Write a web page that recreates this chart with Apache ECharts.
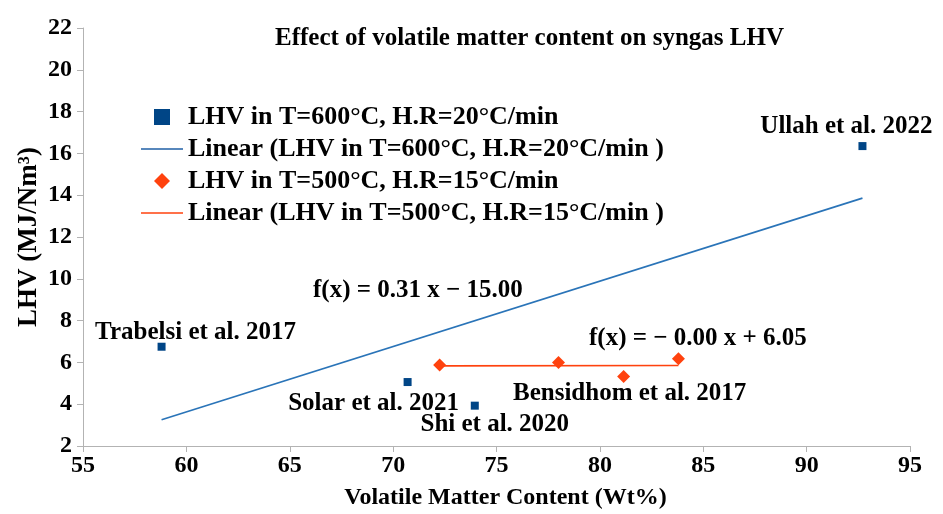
<!DOCTYPE html>
<html>
<head>
<meta charset="utf-8">
<script src="https://cdn.jsdelivr.net/npm/echarts@6/dist/echarts.min.js"></script>
<style>
html,body{margin:0;padding:0;background:#fff;}
#c{width:943px;height:514px;}
</style>
</head>
<body>
<div id="c"></div>
<script>
// ---- data ----
var seriesNames = [
  'LHV in T=600°C, H.R=20°C/min',
  'Linear (LHV in T=600°C, H.R=20°C/min )',
  'LHV in T=500°C, H.R=15°C/min',
  'Linear (LHV in T=500°C, H.R=15°C/min )'
];
var vm600 = [58.8, 70.7, 73.95, 92.7];
var lhv600 = [6.75, 5.06, 3.93, 16.35];
var refs600 = ['Trabelsi et al. 2017', 'Solar et al. 2021', 'Shi et al. 2020', 'Ullah et al. 2022'];
var vm500 = [72.25, 78.0, 81.15, 83.8];
var lhv500 = [5.88, 5.99, 5.32, 6.18];
var refs500 = ['', '', 'Bensidhom et al. 2017', ''];
var eqText600 = 'f(x) = 0.31 x − 15.00';
var eqText500 = 'f(x) = − 0.00 x + 6.05';
var xTicks = [55, 60, 65, 70, 75, 80, 85, 90, 95];
var yTicks = [2, 4, 6, 8, 10, 12, 14, 16, 18, 20, 22];

// ---- helpers ----
function fit(xs, ys) {
  var n = xs.length, mx = 0, my = 0, sxy = 0, sxx = 0;
  for (var i = 0; i < n; i++) { mx += xs[i]; my += ys[i]; }
  mx /= n; my /= n;
  for (i = 0; i < n; i++) { sxy += (xs[i]-mx)*(ys[i]-my); sxx += (xs[i]-mx)*(xs[i]-mx); }
  var b = sxy / sxx, a = my - b*mx;
  var x0 = Math.min.apply(null, xs), x1 = Math.max.apply(null, xs);
  return [[x0, a + b*x0], [x1, a + b*x1]];
}
var FONT = 'Liberation Serif';
var FS = 25;
var labelPos600 = [
  {position: 'top', offset: [34, 7]},
  {position: 'bottom', offset: [-34, 0]},
  {position: 'bottom', offset: [20, -3]},
  {position: 'top', offset: [-16, 2]}
];
var txt = {color: '#000', fontFamily: FONT, fontWeight: 'bold', fontSize: FS};
var LINE_ICON = 'path://M0,0L42,0L42,1.6L0,1.6Z';
var SQUARE_ICON = 'path://M0,0L1,0L1,1L0,1Z';
var DIAMOND_ICON = 'path://M1,0L2,1L1,2L0,1Z';

var chart = echarts.init(document.getElementById('c'), null, {renderer: 'canvas'});
var option = {
  backgroundColor: '#fff',
  animation: false,
  title: {
    text: 'Effect of volatile matter content on syngas LHV',
    left: 270, top: 21,
    textStyle: {color: '#000', fontFamily: FONT, fontWeight: 'bold', fontSize: 25}
  },
  grid: {left: 83, right: 33, top: 28, bottom: 68, containLabel: false, outerBoundsMode: 'none'},
  legend: {
    orient: 'vertical', left: 136, top: 99,
    itemWidth: 42, itemHeight: 16, itemGap: 6,
    symbolKeepAspect: true,
    textStyle: {color: '#000', fontFamily: FONT, fontWeight: 'bold', fontSize: 26},
    data: [
      {name: seriesNames[0], icon: SQUARE_ICON},
      {name: seriesNames[1], icon: LINE_ICON},
      {name: seriesNames[2], icon: DIAMOND_ICON},
      {name: seriesNames[3], icon: LINE_ICON}
    ]
  },
  xAxis: {
    type: 'value', min: xTicks[0], max: xTicks[xTicks.length-1], interval: 5,
    name: 'Volatile Matter Content (Wt%)', nameLocation: 'middle', nameGap: 40,
    nameMoveOverlap: false,
    nameTextStyle: {color: '#000', fontFamily: FONT, fontWeight: 'bold', fontSize: 24, padding: [0, 0, 0, 18]},
    axisLine: {lineStyle: {color: '#b3b3b3', width: 1}},
    axisTick: {show: true, length: 6, lineStyle: {color: '#b3b3b3'}},
    axisLabel: {color: '#000', fontFamily: FONT, fontWeight: 'bold', fontSize: 24, margin: 8},
    splitLine: {show: false}
  },
  yAxis: {
    type: 'value', min: yTicks[0], max: yTicks[yTicks.length-1], interval: 2,
    name: 'LHV (MJ/Nm³)', nameLocation: 'middle', nameGap: 40, nameRotate: 90,
    nameMoveOverlap: false,
    nameTextStyle: {color: '#000', fontFamily: FONT, fontWeight: 'bold', fontSize: 27},
    axisLine: {show: true, lineStyle: {color: '#b3b3b3', width: 1}},
    axisTick: {show: true, length: 6, lineStyle: {color: '#b3b3b3'}},
    axisLabel: {color: '#000', fontFamily: FONT, fontWeight: 'bold', fontSize: 24, margin: 11},
    splitLine: {show: false}
  },
  series: [
    {
      name: seriesNames[0], type: 'scatter', symbol: 'rect', symbolSize: 8,
      itemStyle: {color: '#004586', opacity: 1},
      data: vm600.map(function (x, i) {
        return {value: [x, lhv600[i]], label: Object.assign({show: true, formatter: refs600[i]}, labelPos600[i], txt)};
      }),
      z: 5
    },
    {
      name: seriesNames[1], type: 'line', symbol: 'none',
      lineStyle: {color: '#2a74b8', width: 1.6},
      itemStyle: {color: '#1f5fa6'},
      data: fit(vm600, lhv600),
      z: 3
    },
    {
      name: seriesNames[2], type: 'scatter', symbol: 'diamond', symbolSize: 13,
      itemStyle: {color: '#ff420e', opacity: 1},
      data: vm500.map(function (x, i) {
        return {value: [x, lhv500[i]], label: Object.assign({show: !!refs500[i], formatter: refs500[i], position: 'bottom', offset: [6, -7]}, txt)};
      }),
      z: 5
    },
    {
      name: seriesNames[3], type: 'line', symbol: 'none',
      lineStyle: {color: '#ff420e', width: 1.6},
      itemStyle: {color: '#ff420e'},
      data: fit(vm500, lhv500),
      z: 3
    }
  ],
  graphic: [
    {type: 'text', left: 313, top: 278, style: {text: eqText600, fill: '#000', font: 'bold 25px "Liberation Serif"'}},
    {type: 'text', left: 589, top: 326, style: {text: eqText500, fill: '#000', font: 'bold 25px "Liberation Serif"'}}
  ]
};
chart.setOption(option);
</script>
</body>
</html>
